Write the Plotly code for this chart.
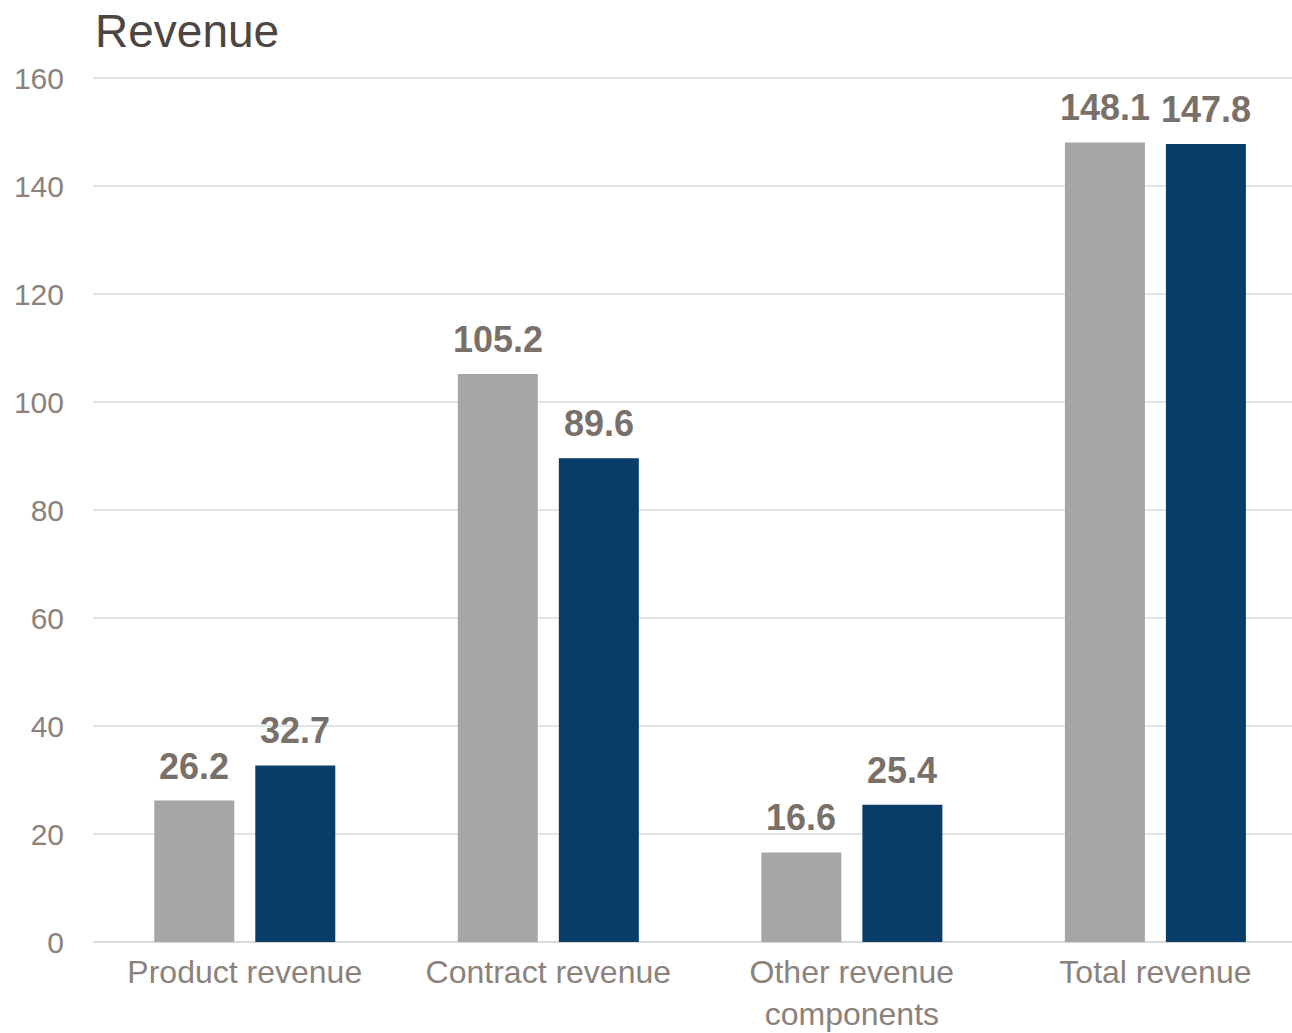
import plotly.graph_objects as go

categories = ["Product revenue", "Contract revenue", "Other revenue<br>components", "Total revenue"]
prior_values = [26.2, 105.2, 16.6, 148.1]
current_values = [32.7, 89.6, 25.4, 147.8]
y_ticks = [0, 20, 40, 60, 80, 100, 120, 140, 160]

FONT = "Arial, Liberation Sans, sans-serif"
LABEL_COLOR = "#7A706A"
TICK_COLOR = "#8C827B"

fig = go.Figure()
fig.add_trace(go.Bar(x=categories, y=prior_values, marker_color="#A6A6A6",
                     marker_line_width=0, name="Prior"))
fig.add_trace(go.Bar(x=categories, y=current_values, marker_color="#083D6A",
                     marker_line_width=0, name="Current"))

# value labels above each bar (left bar of group shifted left, right bar right)
half_slot = 50.5
for cat, v in zip(categories, prior_values):
    fig.add_annotation(x=cat, y=v, text=f"<b>{v:.1f}</b>", showarrow=False,
                       xshift=-half_slot, yshift=13, yanchor="bottom", borderpad=0,
                       font=dict(family=FONT, size=36, color=LABEL_COLOR))
for cat, v in zip(categories, current_values):
    fig.add_annotation(x=cat, y=v, text=f"<b>{v:.1f}</b>", showarrow=False,
                       xshift=half_slot, yshift=13, yanchor="bottom", borderpad=0,
                       font=dict(family=FONT, size=36, color=LABEL_COLOR))

fig.update_layout(
    width=1292, height=1033,
    margin=dict(l=93, r=0, t=76, b=91, autoexpand=False),
    paper_bgcolor="white", plot_bgcolor="white",
    barmode="group", bargap=0.3345, bargroupgap=0.208,
    showlegend=False,
    font=dict(family=FONT),
    title=dict(text="Revenue", x=95 / 1292, xanchor="left", xref="container",
               y=1 - 31 / 1033, yanchor="middle", yref="container",
               font=dict(family=FONT, size=46, color="#4D4542"), pad=dict(l=0)),
    xaxis=dict(range=[-0.5, 3.45], showgrid=False, showline=False, ticks="",
               ticklabelstandoff=8, automargin=False,
               tickfont=dict(family=FONT, size=32, color=TICK_COLOR)),
    yaxis=dict(range=[0, 160.4], tickvals=y_ticks, showgrid=True, gridcolor="#E3E3E3",
               gridwidth=1.5, zeroline=True, zerolinecolor="#D9D9D9", zerolinewidth=2,
               showline=False, ticks="", ticklabelstandoff=28, automargin=False,
               tickfont=dict(family=FONT, size=30, color=TICK_COLOR)),
)
fig.write_html("out.html", config={"displayModeBar": False},
               post_script="document.body.style.margin='0';document.body.style.overflow='hidden';")
